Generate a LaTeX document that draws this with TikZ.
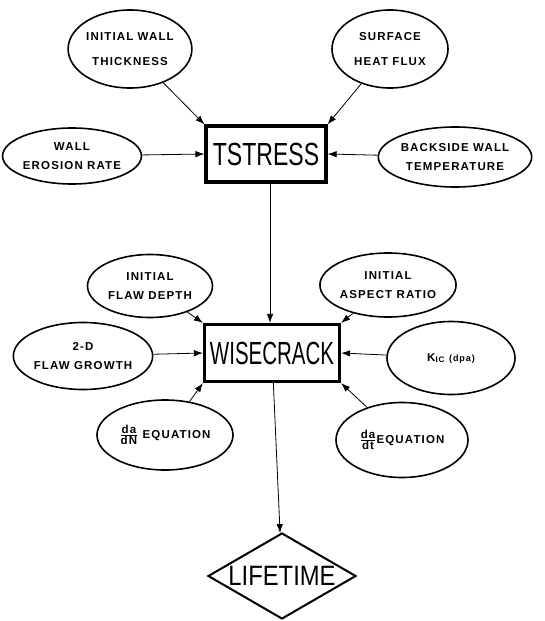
\documentclass[tikz,border=0pt]{standalone}
\usepackage{graphicx}
\usepackage{fontspec}
\setmainfont{Liberation Sans}
\newfontfamily\tagfont[LetterSpace=10]{Liberation Sans}
\usetikzlibrary{shapes.geometric,arrows.meta}
\newcommand\wide[2]{\scalebox{#1}[1]{#2}}

\tikzset{
  input/.style={ellipse, draw, line width=1.6pt, inner sep=0pt, align=center,
    font=\tagfont\bfseries\fontsize{11.5}{19}\selectfont},
  prog/.style={rectangle, draw, line width=3.2pt, inner sep=0pt,
    font=\fontsize{32}{32}\selectfont},
  feed/.style={-{Latex[length=9pt,width=6.5pt]}, line width=0.8pt},
}

\begin{document}
\begin{tikzpicture}[x=1pt, y=-1pt]
\useasboundingbox (0,0) rectangle (545,621);
% TSTRESS and its inputs
\node[prog, minimum width=120pt, minimum height=56pt] (ts) at (266,154) {\wide{0.72}{TSTRESS}};
\node[input, minimum width=114pt, minimum height=78pt] (iwt) at (130,49) {INITIAL WALL\\[6pt]THICKNESS};
\node[input, minimum width=116pt, minimum height=78pt] (shf) at (390,49) {SURFACE\\[6pt]HEAT FLUX};
\node[input, minimum width=128pt, minimum height=56pt] (wer) at (72,156) {WALL\\EROSION RATE};
\node[input, minimum width=120pt, minimum height=60pt] (bwt) at (455,157) {BACKSIDE WALL\\TEMPERATURE};
\draw[feed] (iwt) -- (ts.north west);
\draw[feed] (shf) -- (ts.north east);
\draw[feed] (wer) -- (ts.west);
\draw[feed] (bwt) -- (ts.east);
% WISECRACK and its inputs
\node[prog, minimum width=135pt, minimum height=57pt] (ws) at (272,353) {\wide{0.64}{WISECRACK}};
\node[input, minimum width=125pt, minimum height=63pt] (ifd) at (150,286) {INITIAL\\FLAW DEPTH};
\node[input, minimum width=129pt, minimum height=64pt] (iar) at (388,285) {INITIAL\\ASPECT RATIO};
\node[input, minimum width=129pt, minimum height=67pt] (fg) at (83,356) {2-D\\FLAW GROWTH};
\node[input, minimum width=128pt, minimum height=73pt] (kic) at (451,358) {K\textsubscript{IC} {\small(dpa)}};
\node[input, minimum width=136pt, minimum height=70pt] (dadn) at (165,435) {$\frac{\textbf{da}}{\textbf{dN}}$ EQUATION};
\node[input, minimum width=132pt, minimum height=75pt] (dadt) at (402,440) {$\frac{\textbf{da}}{\textbf{dt}}$EQUATION};
\draw[feed] (ts.south -| 270,0) -- (ws.north -| 270,0);
\draw[feed] (ifd) -- (ws.north west);
\draw[feed] (iar) -- (ws.north east);
\draw[feed] (fg) -- (ws.west);
\draw[feed] (kic) -- (ws.east);
\draw[feed] (dadn) -- (ws.south west);
\draw[feed] (dadt) -- (ws.south east);
% result
\node[diamond, draw, line width=2pt, inner sep=0pt, aspect=1.7, minimum width=148pt, minimum height=86pt,
  font=\fontsize{28}{28}\selectfont] (lt) at (282,576) {\wide{0.85}{LIFETIME}};
\draw[feed] (ws) -- (lt);
\end{tikzpicture}
\end{document}
